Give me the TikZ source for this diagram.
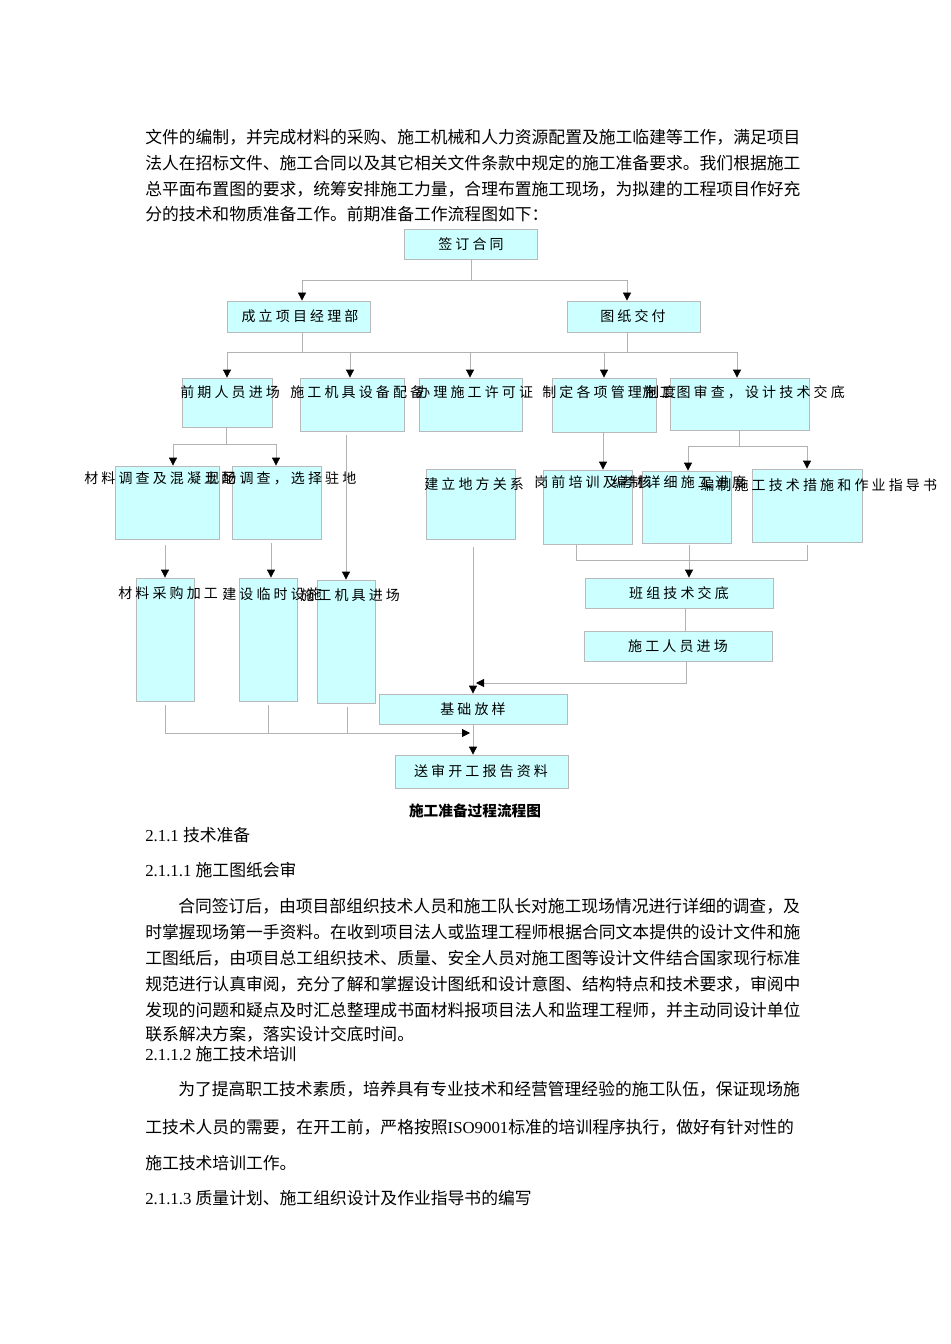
\documentclass[tikz,border=0pt]{standalone}
\usepackage{fontspec}
\setmainfont{Liberation Serif}
\newfontfamily\cjk{Noto Sans CJK SC}
\usetikzlibrary{fit,arrows.meta}
\definecolor{boxfill}{HTML}{CCFFFF}
\begin{document}
\begin{tikzpicture}[x=0.75pt,y=-0.75pt,
  bx/.style={draw=gray!55,fill=boxfill,line width=0.6pt,inner sep=0pt},
  lbl/.style={font=\cjk\fontsize{10.5}{12}\selectfont,inner sep=0pt},
  ln/.style={draw=gray!60,line width=0.6pt},
  ar/.style={ln,-{Triangle[black,length=6pt,width=6pt]}},
  body/.style={anchor=west,inner sep=0pt,font=\cjk\fontsize{12.6}{14}\selectfont},
  captxt/.style={inner sep=0pt,font=\cjk\bfseries\fontsize{11}{13}\selectfont}]
\useasboundingbox[fill=white] (0,0) rectangle (950,1344);
\newcommand\bx[5]{\node[bx,fit={(#2,#3) (#4,#5)}] (#1) {};}
% paragraph
\node[body] (p1) at (145,137) {文件的编制，并完成材料的采购、施工机械和人力资源配置及施工临建等工作，满足项目};
\node[body] (p2) at (145,163) {法人在招标文件、施工合同以及其它相关文件条款中规定的施工准备要求。我们根据施工};
\node[body] (p3) at (145,189) {总平面布置图的要求，统筹安排施工力量，合理布置施工现场，为拟建的工程项目作好充};
\node[body] (p4) at (145,214) {分的技术和物质准备工作。前期准备工作流程图如下：};
% boxes
\bx{a}{404}{229}{537}{259}
\bx{b1}{227}{301}{370}{332}
\bx{b2}{567}{301}{700}{332}
\bx{c1}{182}{378}{272}{427}
\bx{c2}{300}{378}{404}{431}
\bx{c3}{419}{378}{522}{431}
\bx{c4}{552}{378}{656}{432}
\bx{c5}{670}{378}{809}{430}
\bx{d1}{115}{466}{219}{539}
\bx{d2}{232}{466}{321}{539}
\bx{d3}{426}{469}{515}{539}
\bx{d4}{543}{470}{632}{544}
\bx{d5}{642}{471}{731}{543}
\bx{d6}{752}{469}{862}{542}
\bx{e1}{136}{578}{194}{701}
\bx{e2}{239}{578}{297}{701}
\bx{e3}{317}{580}{375}{703}
\bx{f1}{585}{578}{773}{608}
\bx{f2}{584}{631}{772}{661}
\bx{g}{379}{694}{567}{724}
\bx{h}{395}{755}{568}{788}
% labels
\node[lbl] (ta) at (471,244) {签 订 合 同};
\node[lbl] (tb1) at (300,316) {成 立 项 目 经 理 部};
\node[lbl] (tb2) at (633,316) {图 纸 交 付};
\node[lbl,anchor=west] (tc1) at (180,392) {前 期 人 员 进 场};
\node[lbl,anchor=west] (tc2) at (290,392) {施 工 机 具 设 备 配 备};
\node[lbl,anchor=west] (tc3) at (416,392) {办 理 施 工 许 可 证};
\node[lbl,anchor=west] (tc4) at (542,392) {制 定 各 项 管 理 制 度};
\node[lbl,anchor=west] (tc5) at (642,392) {施 工 图 审 查 ， 设 计 技 术 交 底};
\node[lbl,anchor=west] (td1) at (84,478) {材 料 调 查 及 混 凝 土 配};
\node[lbl,anchor=west] (td2) at (205,478) {现 场 调 查 ， 选 择 驻 地};
\node[lbl,anchor=west] (td3) at (424,484) {建 立 地 方 关 系};
\node[lbl,anchor=west] (td4) at (534,482) {岗 前 培 训 及 考 核};
\node[lbl,anchor=west] (td5) at (612,482) {编 制 详 细 施 工 进 度};
\node[lbl,anchor=west] (td6) at (700,485) {编 制 施 工 技 术 措 施 和 作 业 指 导 书};
\node[lbl,anchor=west] (te1) at (118,593) {材 料 采 购 加 工};
\node[lbl,anchor=west] (te2) at (222,594) {建 设 临 时 设 施};
\node[lbl,anchor=west] (te3) at (300,595) {施 工 机 具 进 场};
\node[lbl] (tf1) at (679,593) {班 组 技 术 交 底};
\node[lbl] (tf2) at (678,646) {施 工 人 员 进 场};
\node[lbl] (tg) at (473,709) {基 础 放 样};
\node[lbl] (th) at (481,771) {送 审 开 工 报 告 资 料};
\node[captxt] (cap) at (475,811) {施工准备过程流程图};
% connectors
\coordinate (j1) at (471,280);
\draw[ln] (a.south-|471,0) -- (j1);
\draw[ar] (j1) -| (b1.north-|302,0);
\draw[ar] (j1) -| (b2.north-|627,0);
\coordinate (j2) at (302,352);
\coordinate (j3) at (627,352);
\draw[ln] (b1.south-|302,0) -- (j2);
\draw[ln] (b2.south-|627,0) -- (j3);
\draw[ln] (227,352) -- (737,352);
\draw[ar] (227,352) -- (c1.north-|227,0);
\draw[ar] (350,352) -- (c2.north-|350,0);
\draw[ar] (470,352) -- (c3.north-|470,0);
\draw[ar] (604,352) -- (c4.north-|604,0);
\draw[ar] (737,352) -- (c5.north-|737,0);
\coordinate (j4) at (226,444);
\draw[ln] (c1.south-|226,0) -- (j4);
\draw[ar] (173,444) -- (d1.north-|173,0);
\draw[ln] (173,444) -- (276,444);
\draw[ar] (276,444) -- (d2.north-|276,0);
\draw[ar] (346,435) -- (e3.north-|346,0);
\draw[ar] (165,545) -- (e1.north-|165,0);
\draw[ar] (271,543) -- (e2.north-|271,0);
\draw[ar] (473,547) -- (g.north-|473,0);
\draw[ar] (603,432) -- (d4.north-|603,0);
\coordinate (j5) at (739,446);
\draw[ln] (c5.south-|739,0) -- (j5);
\draw[ln] (688,446) -- (807,446);
\draw[ar] (688,446) -- (d5.north-|688,0);
\draw[ar] (807,446) -- (d6.north-|807,0);
\draw[ln] (576,545) |- (807,560) -- (807,545);
\draw[ar] (689,545) -- (f1.north-|689,0);
\draw[ln] (f1.south-|685,0) -- (f2.north-|685,0);
\draw[ar] (f2.south-|686,0) |- (476,683);
\draw[ar] (g.south-|473,0) -- (h.north-|473,0);
\draw[ln] (165,705) |- (350,733);
\draw[ln] (268,705) -- (268,733);
\draw[ln] (347,707) -- (347,733);
\draw[ar] (347,733) -- (470,733);
% lower text
\node[body] (s1) at (145,835) {{\rmfamily 2.1.1 }技术准备};
\node[body] (s2) at (145,870) {{\rmfamily 2.1.1.1 }施工图纸会审};
\node[body] (q1) at (178,906) {合同签订后，由项目部组织技术人员和施工队长对施工现场情况进行详细的调查，及};
\node[body] (q2) at (145,932) {时掌握现场第一手资料。在收到项目法人或监理工程师根据合同文本提供的设计文件和施};
\node[body] (q3) at (145,958) {工图纸后，由项目总工组织技术、质量、安全人员对施工图等设计文件结合国家现行标准};
\node[body] (q4) at (145,984) {规范进行认真审阅，充分了解和掌握设计图纸和设计意图、结构特点和技术要求，审阅中};
\node[body] (q5) at (145,1010) {发现的问题和疑点及时汇总整理成书面材料报项目法人和监理工程师，并主动同设计单位};
\node[body] (q6) at (145,1034) {联系解决方案，落实设计交底时间。};
\node[body] (s3) at (145,1054) {{\rmfamily 2.1.1.2 }施工技术培训};
\node[body] (r1) at (178,1089) {为了提高职工技术素质，培养具有专业技术和经营管理经验的施工队伍，保证现场施};
\node[body] (r2) at (145,1127) {工技术人员的需要，在开工前，严格按照{\rmfamily ISO9001}标准的培训程序执行，做好有针对性的};
\node[body] (r3) at (145,1163) {施工技术培训工作。};
\node[body] (s4) at (145,1198) {{\rmfamily 2.1.1.3 }质量计划、施工组织设计及作业指导书的编写};
\end{tikzpicture}
\end{document}
